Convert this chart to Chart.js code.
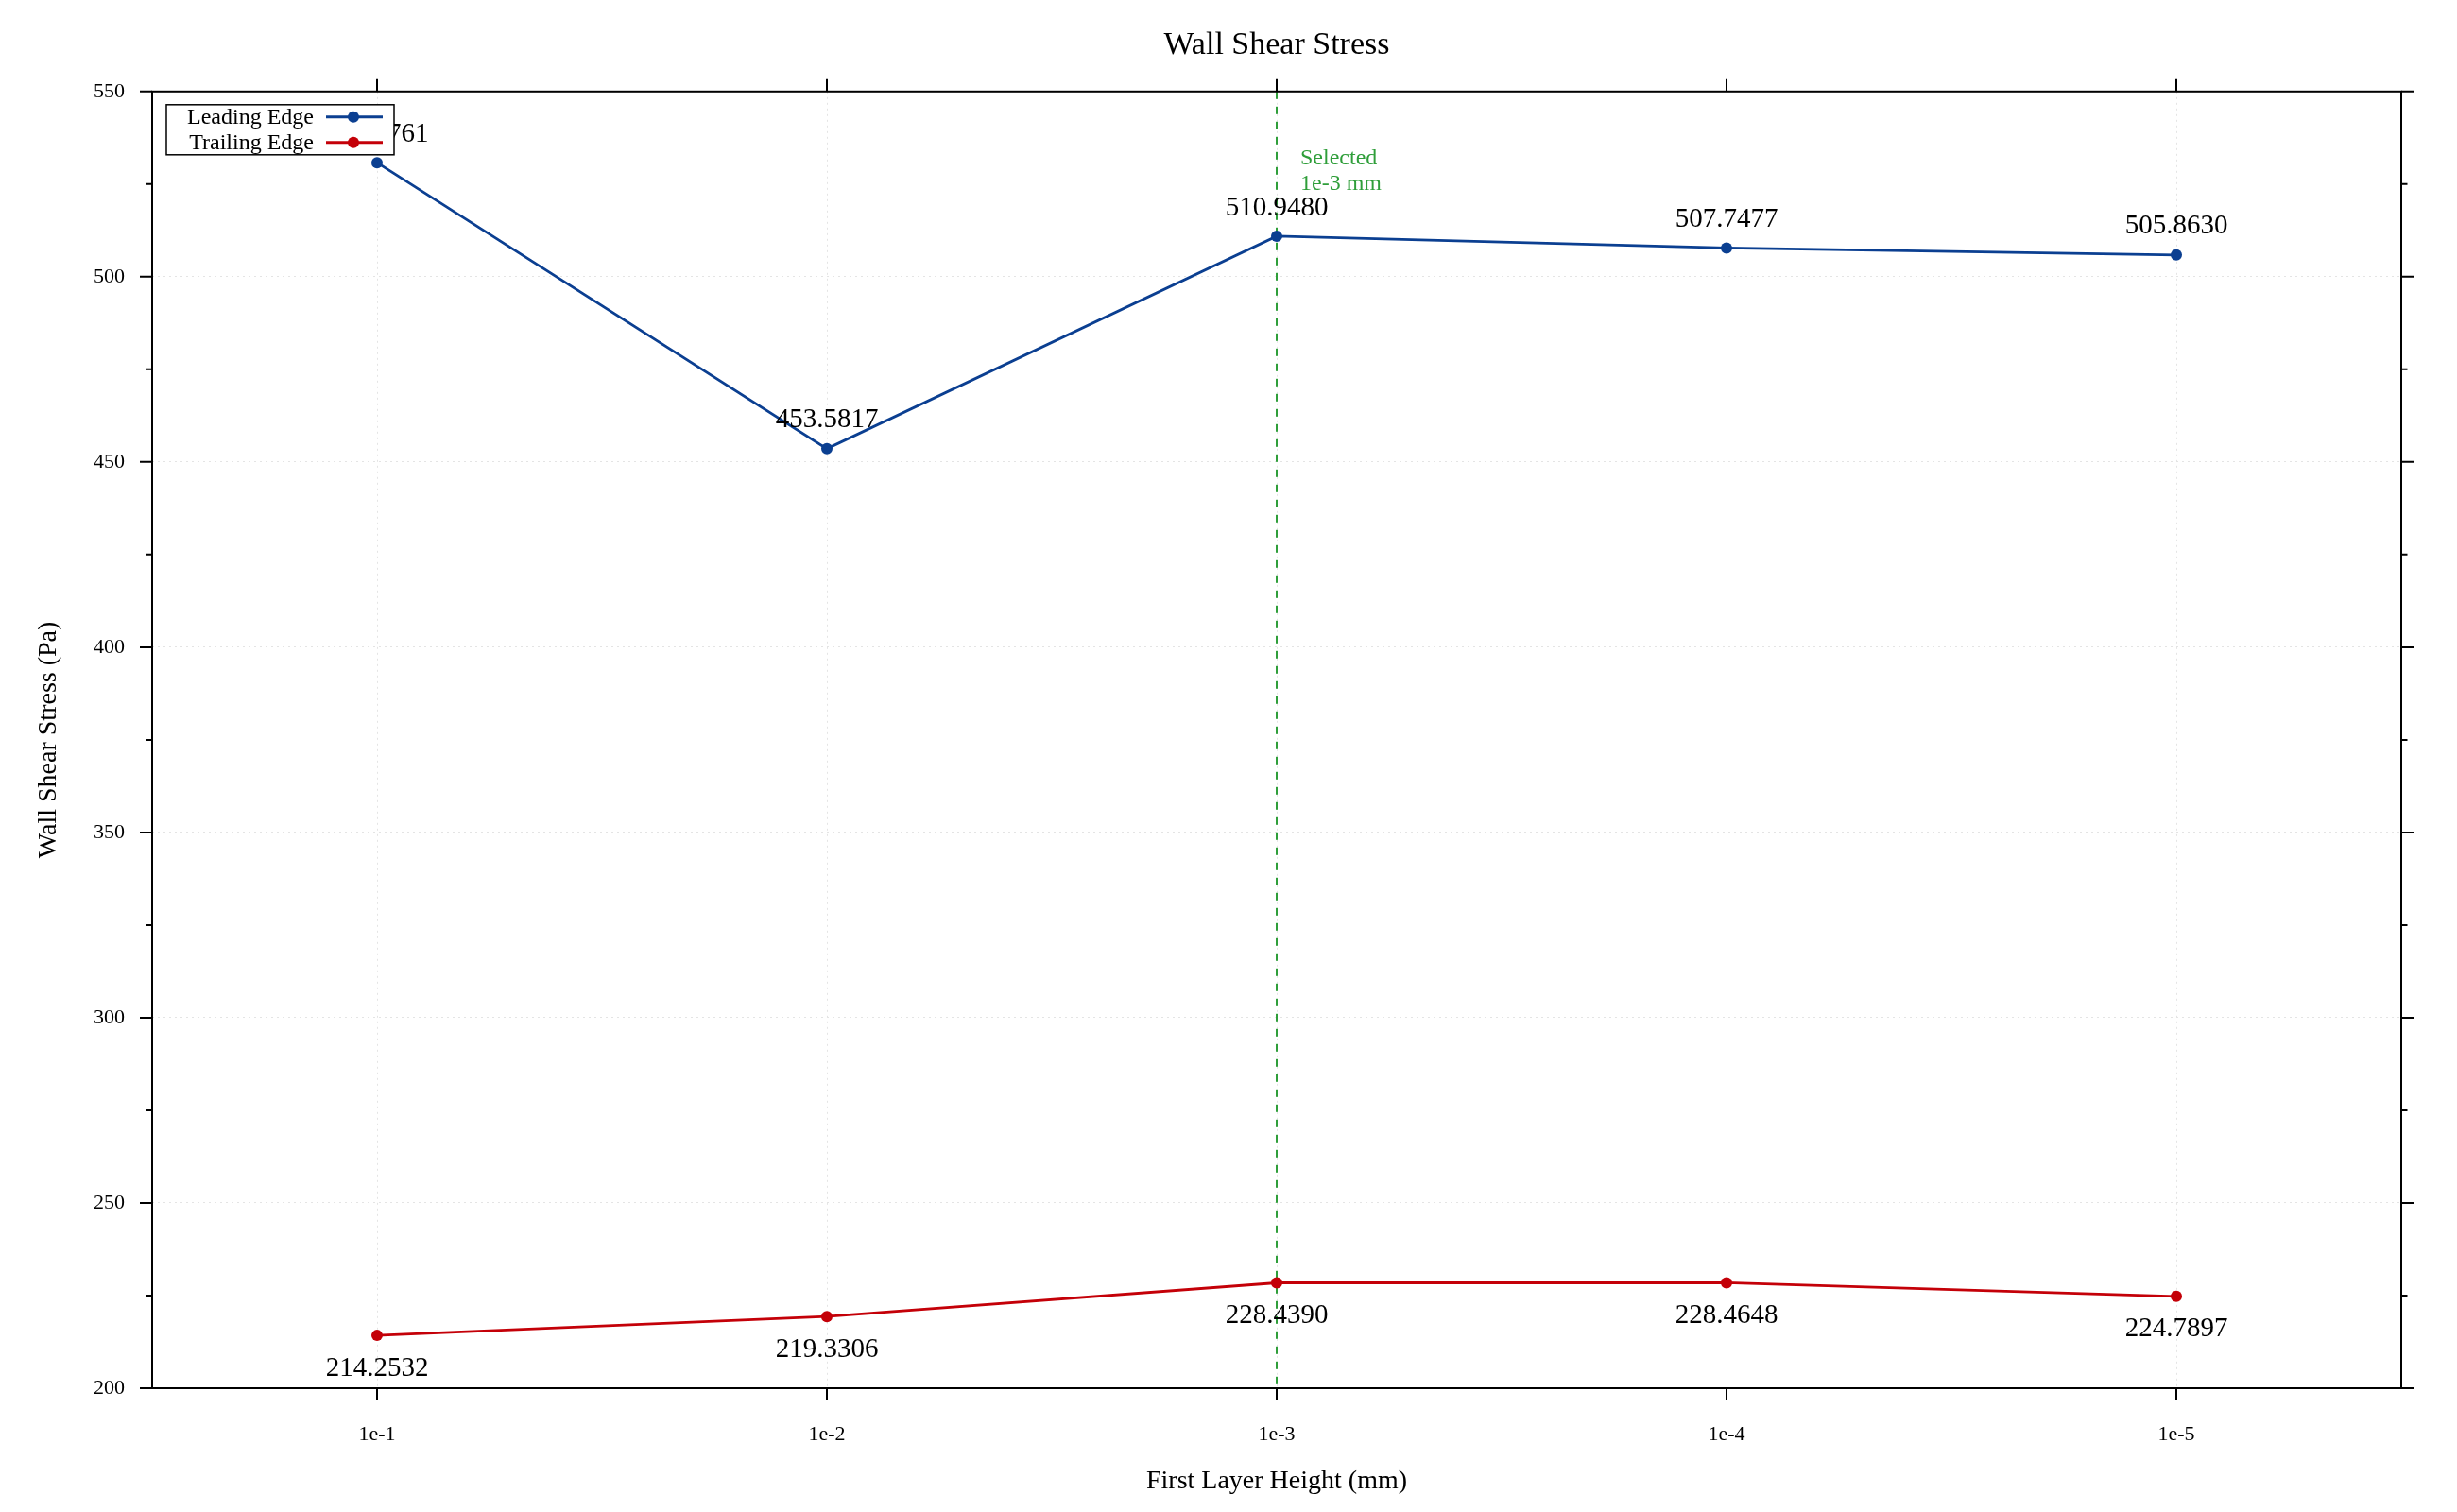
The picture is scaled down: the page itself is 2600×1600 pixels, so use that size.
<!DOCTYPE html>
<html>
<head>
<meta charset="utf-8">
<title>Wall Shear Stress</title>
<script src="https://cdn.jsdelivr.net/npm/chart.js@4.4.0/dist/chart.umd.min.js"></script>
<style>
  html, body { margin: 0; padding: 0; background: #fff; }
  #chart-container { width: 2600px; height: 1600px; }
</style>
</head>
<body>
<div id="chart-container"><canvas id="chart" width="2600" height="1600"></canvas></div>
<script>
// data
const heights = ['1e-1', '1e-2', '1e-3', '1e-4', '1e-5'];
const leadingEdge = [530.7761, 453.5817, 510.9480, 507.7477, 505.8630];
const trailingEdge = [214.2532, 219.3306, 228.4390, 228.4648, 224.7897];
const yMin = 200;
const yMax = 550;
const yMajorStep = 50;
const yMinorStep = 25;
const selectedHeight = '1e-3';
const selectedNote = ['Selected', '1e-3 mm'];

const SERIF = '"Liberation Serif", "Times New Roman", serif';
Chart.defaults.font.family = SERIF;
Chart.defaults.color = '#000';

const isMajor = v => v % yMajorStep === 0;

// green dashed marker for the chosen first layer height
const selectedLine = {
  id: 'selectedLine',
  beforeDatasetsDraw(chart) {
    const {ctx, chartArea, scales} = chart;
    const x = scales.x.getPixelForValue(heights.indexOf(selectedHeight));
    ctx.save();
    ctx.strokeStyle = '#2f9e3a';
    ctx.lineWidth = 2;
    ctx.setLineDash([8, 8]);
    ctx.beginPath();
    ctx.moveTo(x, chartArea.top);
    ctx.lineTo(x, chartArea.bottom);
    ctx.stroke();
    ctx.setLineDash([]);
    ctx.fillStyle = '#2f9e3a';
    ctx.font = '24px ' + SERIF;
    ctx.textAlign = 'left';
    ctx.textBaseline = 'middle';
    selectedNote.forEach((line, i) => ctx.fillText(line, x + 25, chartArea.top + 71 + i * 27));
    ctx.restore();
  }
};

// value labels, above the leading edge and below the trailing edge
const pointLabels = {
  id: 'pointLabels',
  afterDatasetsDraw(chart) {
    const ctx = chart.ctx;
    ctx.save();
    ctx.font = '29px ' + SERIF;
    ctx.fillStyle = '#000';
    ctx.textAlign = 'center';
    ctx.textBaseline = 'middle';
    chart.data.datasets.forEach((ds, i) => {
      const shift = ds.labelSide === 'above' ? -30 : 35;
      chart.getDatasetMeta(i).data.forEach((pt, j) => {
        ctx.fillText(ds.data[j].toFixed(4), pt.x, pt.y + shift);
      });
    });
    ctx.restore();
  }
};

// box frame with outward ticks on all four sides
const frameTicks = {
  id: 'frameTicks',
  afterDraw(chart) {
    const {ctx, chartArea: a, scales} = chart;
    ctx.save();
    ctx.strokeStyle = '#000';
    ctx.lineWidth = 2;
    ctx.strokeRect(a.left, a.top, a.right - a.left, a.bottom - a.top);
    ctx.beginPath();
    scales.y.ticks.forEach(t => {
      const y = scales.y.getPixelForValue(t.value);
      const len = isMajor(t.value) ? 13 : 6.5;
      ctx.moveTo(a.left - len, y); ctx.lineTo(a.left, y);
      ctx.moveTo(a.right, y); ctx.lineTo(a.right + len, y);
    });
    heights.forEach((h, i) => {
      const x = scales.x.getPixelForValue(i);
      ctx.moveTo(x, a.top - 13); ctx.lineTo(x, a.top);
      ctx.moveTo(x, a.bottom); ctx.lineTo(x, a.bottom + 12);
    });
    ctx.stroke();
    ctx.restore();
  }
};

// legend box in the top-left corner, text first then line and marker
const boxLegend = {
  id: 'boxLegend',
  afterDraw(chart) {
    const {ctx, chartArea: a} = chart;
    const bx = a.left + 15, by = a.top + 14, bw = 241, bh = 53;
    ctx.save();
    ctx.fillStyle = '#fff';
    ctx.fillRect(bx, by, bw, bh);
    ctx.strokeStyle = '#000';
    ctx.lineWidth = 1.5;
    ctx.strokeRect(bx, by, bw, bh);
    ctx.font = '24px ' + SERIF;
    ctx.textAlign = 'right';
    ctx.textBaseline = 'middle';
    chart.data.datasets.forEach((ds, i) => {
      const y = by + 13 + i * 27;
      ctx.fillStyle = '#000';
      ctx.fillText(ds.label, bx + 156, y + 1);
      ctx.strokeStyle = ds.borderColor;
      ctx.lineWidth = 3;
      ctx.beginPath();
      ctx.moveTo(bx + 169, y);
      ctx.lineTo(bx + 229, y);
      ctx.stroke();
      ctx.fillStyle = ds.borderColor;
      ctx.beginPath();
      ctx.arc(bx + 198, y, 6, 0, Math.PI * 2);
      ctx.fill();
    });
    ctx.restore();
  }
};

const chart = new Chart(document.getElementById('chart').getContext('2d'), {
  type: 'line',
  data: {
    labels: heights,
    datasets: [
      {
        label: 'Leading Edge',
        data: leadingEdge,
        labelSide: 'above',
        borderColor: '#0b3f91',
        backgroundColor: '#0b3f91',
        borderWidth: 2.8,
        pointRadius: 6,
        pointBorderWidth: 0,
        tension: 0
      },
      {
        label: 'Trailing Edge',
        data: trailingEdge,
        labelSide: 'below',
        borderColor: '#c40008',
        backgroundColor: '#c40008',
        borderWidth: 2.8,
        pointRadius: 6,
        pointBorderWidth: 0,
        tension: 0
      }
    ]
  },
  options: {
    responsive: false,
    devicePixelRatio: 1,
    animation: false,
    layout: { padding: { left: 0, right: 59, top: 0, bottom: 0 } },
    plugins: {
      legend: { display: false },
      tooltip: { enabled: false },
      title: {
        display: true,
        fullSize: false,
        text: 'Wall Shear Stress',
        color: '#000',
        font: { size: 34, weight: 'normal' },
        padding: { top: 28, bottom: 28 }
      }
    },
    scales: {
      x: {
        offset: true,
        grid: { offset: false, color: '#e4e4e4', lineWidth: 1, drawTicks: false },
        border: { display: false, dash: [2, 4] },
        ticks: { padding: 36, font: { size: 22 }, color: '#000' },
        title: {
          display: true,
          text: 'First Layer Height (mm)',
          font: { size: 28 },
          color: '#000',
          padding: { top: 16, bottom: 16 }
        },
        afterFit(scale) { scale.height = 131; }
      },
      y: {
        min: yMin,
        max: yMax,
        grid: {
          color: c => (c.tick && isMajor(c.tick.value) ? '#e4e4e4' : 'rgba(0,0,0,0)'),
          lineWidth: 1,
          drawTicks: false
        },
        border: { display: false, dash: [2, 4] },
        ticks: {
          stepSize: yMinorStep,
          autoSkip: false,
          padding: 29,
          font: { size: 22 },
          color: '#000',
          callback: v => (isMajor(v) ? v : '')
        },
        title: {
          display: true,
          text: 'Wall Shear Stress (Pa)',
          font: { size: 28 },
          color: '#000',
          padding: { top: 35, bottom: 35 }
        },
        afterFit(scale) { scale.width = 161; }
      }
    }
  },
  plugins: [selectedLine, pointLabels, frameTicks, boxLegend]
});
</script>
</body>
</html>
